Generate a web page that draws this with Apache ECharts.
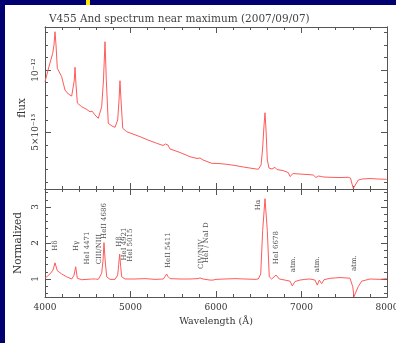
<!DOCTYPE html>
<html>
<head>
<meta charset="utf-8">
<script src="https://cdn.jsdelivr.net/npm/echarts@6/dist/echarts.min.js"></script>
<style>
  body { margin: 0; background: #000070; }
  #panel { position: absolute; left: 5px; top: 5px; right: 0; bottom: 0; background: #fff; }
  #mark { position: absolute; left: 86px; top: 0; width: 4px; height: 5px; background: #ffe600; }
  #chart { position: absolute; left: 0; top: 0; width: 396px; height: 343px; }
</style>
</head>
<body>
<div id="panel"></div>
<div id="mark"></div>
<div id="chart"></div>
<script>
// flux in units of 1e-13
const fluxWave = [4000, 4058, 4090, 4105, 4117, 4129, 4144, 4195, 4234, 4273, 4312, 4327, 4343, 4351, 4363, 4378,
  4429, 4480, 4526, 4550, 4585, 4623, 4663, 4684, 4702, 4717, 4740, 4784, 4819, 4850, 4866, 4877, 4889, 4909,
  4956, 5029, 5111, 5205, 5306, 5380, 5409, 5423, 5438, 5462, 5579, 5696, 5778, 5813, 5848, 5950, 6023, 6125,
  6222, 6281, 6398, 6495, 6527, 6544, 6562, 6573, 6585, 6600, 6620, 6655, 6690, 6713, 6784, 6846, 6866, 6883,
  6901, 6982, 7076, 7138, 7170, 7185, 7199, 7216, 7234, 7263, 7333, 7450, 7547, 7573, 7591, 7606, 7620, 7643,
  7664, 7708, 7801, 7895, 7997];
const fluxVal = [9.06, 10.56, 11.34, 12.0, 13.07, 12.0, 10.14, 9.46, 8.39, 8.07, 7.91, 7.99, 9.2, 10.22, 8.8, 7.35,
  7.05, 6.87, 6.65, 6.7, 6.39, 6.12, 7.05, 9.2, 12.27, 9.2, 5.72, 5.5, 5.4, 5.99, 7.59, 9.14, 7.59, 5.32,
  5.05, 4.86, 4.65, 4.38, 4.12, 3.94, 4.06, 4.17, 3.98, 3.66, 3.38, 3.04, 2.9, 2.94, 2.78, 2.51, 2.5, 2.43,
  2.34, 2.26, 2.13, 2.03, 2.38, 3.58, 5.59, 6.57, 5.18, 2.78, 2.13, 2.05, 2.19, 2.01, 1.93, 1.76, 1.45, 1.57,
  1.69, 1.65, 1.61, 1.57, 1.37, 1.23, 1.49, 1.33, 1.45, 1.41, 1.39, 1.37, 1.39, 1.33, 0.85, 0.5, 0.57, 0.93,
  1.17, 1.25, 1.29, 1.25, 1.23];

const normWave = [4000, 4023, 4058, 4094, 4117, 4144, 4195, 4254, 4312, 4339, 4359, 4378, 4429, 4491, 4546, 4565,
  4591, 4623, 4663, 4678, 4690, 4704, 4722, 4760, 4819, 4850, 4862, 4873, 4885, 4897, 4936, 5053, 5170, 5287,
  5384, 5407, 5423, 5438, 5462, 5579, 5696, 5789, 5813, 5848, 5930, 5965, 6000, 6105, 6222, 6339, 6456, 6495,
  6523, 6546, 6573, 6600, 6623, 6651, 6702, 6740, 6807, 6866, 6892, 6924, 6982, 7040, 7099, 7158, 7185, 7208,
  7236, 7263, 7333, 7400, 7450, 7520, 7567, 7599, 7614, 7637, 7664, 7704, 7801, 7918, 7997];
const normVal = [1.02, 1.05, 1.14, 1.25, 1.45, 1.23, 1.14, 1.06, 1.0, 1.1, 1.34, 1.02, 0.98, 0.99, 1.0, 1.03,
  1.0, 0.99, 1.16, 1.5, 2.01, 1.5, 1.06, 0.99, 0.99, 1.11, 1.4, 1.69, 1.35, 1.06, 1.0, 1.0, 1.01, 0.99,
  1.0, 1.08, 1.14, 1.07, 1.01, 1.0, 1.0, 1.01, 1.03, 1.0, 0.97, 0.97, 0.99, 1.0, 1.01, 1.0, 0.99, 1.0,
  1.14, 2.35, 3.23, 2.35, 1.06, 1.0, 1.11, 1.0, 0.97, 0.94, 0.81, 0.93, 0.97, 0.99, 1.0, 0.97, 0.83, 0.97,
  0.87, 0.98, 1.02, 1.03, 1.04, 1.03, 1.02, 0.79, 0.51, 0.56, 0.79, 0.94, 1.0, 0.99, 1.01];

// line identifications (wavelength position, normalized height of label centre)
const lineNames = ["H\u03b4", "H\u03b3", "HeI 4471", "CIII/NIII", "HeII 4686", "H\u03b2", "HeI 4921", "HeI 5015",
  "HeII 5411", "CIV/NIV", "HeI / NaI D", "H\u03b1", "HeI 6678", "atm.", "atm.", "atm."];
const lineX = [4121, 4359, 4491, 4628, 4692, 4862, 4932, 5000, 5435, 5821, 5891, 6495, 6705, 6901, 7185, 7622];
const lineY = [1.93, 1.92, 1.86, 1.83, 2.61, 2.04, 1.97, 1.94, 1.80, 1.69, 2.01, 3.06, 1.87, 1.41, 1.41, 1.44];

const fluxLabels = [5, 10];
const fluxTicks = [1, 2, 3, 4, 5, 6, 7, 8, 9, 10, 11, 12, 13];
const normLabels = [1, 2, 3];
const normTicks = [0.6, 0.8, 1.0, 1.2, 1.4, 1.6, 1.8, 2.0, 2.2, 2.4, 2.6, 2.8, 3.0, 3.2, 3.4];

const axisCol = "#555";
const font = "DejaVu Serif";

function xAx(grid, pos, labels) {
  return {
    type: "value", gridIndex: grid, position: pos, min: 4000, max: 8000, interval: 1000,
    axisLine: { lineStyle: { color: axisCol, width: 1 } },
    axisTick: { inside: true, length: 6, lineStyle: { color: axisCol } },
    minorTick: { show: true, splitNumber: 5, length: 3, lineStyle: { color: axisCol } },
    splitLine: { show: false },
    axisLabel: { show: labels, color: "#333", fontFamily: font, fontSize: 9, margin: 6,
      formatter: v => String(v) },
    name: labels ? "Wavelength (\u00c5)" : "",
    nameLocation: "middle", nameGap: 20,
    nameTextStyle: { color: "#333", fontFamily: font, fontSize: 9.5 }
  };
}

function yAx(grid, pos, min, max, ticks, len, labels, name, fmt, gap) {
  return {
    type: "value", gridIndex: grid, position: pos, min: min, max: max,
    axisLine: { show: true, lineStyle: { color: axisCol, width: 1 } },
    axisTick: { inside: true, length: len, customValues: ticks, lineStyle: { color: axisCol } },
    splitLine: { show: false },
    axisLabel: labels ? {
      show: true, customValues: labels, rotate: 90, color: "#333", fontFamily: font, fontSize: 9,
      margin: 5, formatter: fmt
    } : { show: false },
    name: name || "", nameLocation: "middle", nameGap: gap || 22, nameMoveOverlap: false,
    nameTextStyle: { color: "#333", fontFamily: font, fontSize: 10.5 }
  };
}

const fluxFmt = v => (v === 10 ? "10\u207b\u00b9\u00b2" : v + "\u00d710\u207b\u00b9\u00b3");

const chart = echarts.init(document.getElementById("chart"), null, { renderer: "canvas" });
chart.setOption({
  animation: false,
  backgroundColor: "transparent",
  title: {
    text: "V455 And spectrum near maximum (2007/09/07)",
    left: 44, top: 9,
    textStyle: { color: "#444", fontFamily: font, fontSize: 10.5, fontWeight: "normal" }
  },
  grid: [
    { left: 45, right: 9, top: 27, height: 162, outerBoundsMode: "none", containLabel: false },
    { left: 45, right: 9, top: 189, height: 108, outerBoundsMode: "none", containLabel: false }
  ],
  xAxis: [
    xAx(0, "bottom", false),
    xAx(0, "top", false),
    xAx(1, "bottom", true),
    xAx(1, "top", false)
  ],
  yAxis: [
    yAx(0, "left", 0.45, 13.45, fluxLabels, 6, fluxLabels, "flux", fluxFmt, 17),
    yAx(0, "left", 0.45, 13.45, fluxTicks, 3, null),
    yAx(0, "right", 0.45, 13.45, fluxLabels, 6, null),
    yAx(0, "right", 0.45, 13.45, fluxTicks, 3, null),
    yAx(1, "left", 0.5, 3.5, normLabels, 6, normLabels, "Normalized", v => String(v), 21),
    yAx(1, "left", 0.5, 3.5, normTicks, 3, null),
    yAx(1, "right", 0.5, 3.5, normLabels, 6, null),
    yAx(1, "right", 0.5, 3.5, normTicks, 3, null)
  ],
  series: [
    {
      type: "line", xAxisIndex: 0, yAxisIndex: 0, showSymbol: false, symbol: "none",
      lineStyle: { color: "#ff5a5a", width: 1 },
      data: fluxWave.map((w, i) => [w, fluxVal[i]])
    },
    {
      type: "line", xAxisIndex: 2, yAxisIndex: 4, showSymbol: false, symbol: "none",
      lineStyle: { color: "#ff5a5a", width: 1 },
      data: normWave.map((w, i) => [w, normVal[i]])
    },
    {
      type: "scatter", xAxisIndex: 2, yAxisIndex: 4, symbolSize: 0, silent: true,
      label: {
        show: true, position: "inside", rotate: 90, align: "center", verticalAlign: "middle",
        color: "#222", fontFamily: font, fontSize: 7,
        formatter: p => p.value[2]
      },
      data: lineX.map((x, i) => [x, lineY[i], lineNames[i]])
    }
  ]
});
</script>
</body>
</html>
